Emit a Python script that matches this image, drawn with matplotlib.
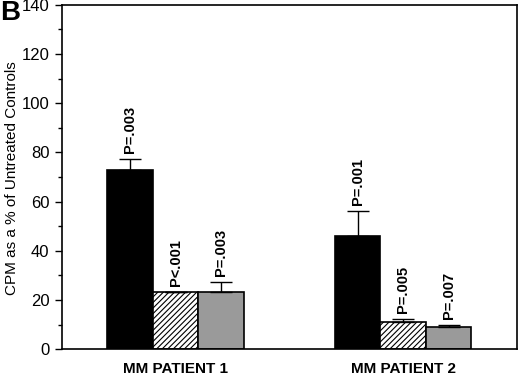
import matplotlib
matplotlib.use("Agg")
import matplotlib.pyplot as plt
import numpy as np

plt.rcParams['font.family'] = ['Liberation Sans', 'DejaVu Sans']
plt.rcParams['hatch.linewidth'] = 0.8

groups = ["MM PATIENT 1", "MM PATIENT 2"]
black_vals = [72.9, 46.0]
black_err = [4.4, 10.2]
hatch_vals = [23.2, 11.0]
hatch_err = [0.0, 1.2]
gray_vals = [23.2, 9.0]
gray_err = [4.1, 0.8]
black_p = ["P=.003", "P=.001"]
hatch_p = ["P<.001", "P=.005"]
gray_p = ["P=.003", "P=.007"]

fig = plt.figure(figsize=(5.2, 3.75), dpi=100)
ax = fig.add_axes([0.119, 0.069, 0.875, 0.918])

x = np.arange(len(groups))
w = 0.2
series = [
    (x - w, black_vals, black_err, black_p, dict(color='black', edgecolor='black')),
    (x, hatch_vals, hatch_err, hatch_p, dict(color='white', edgecolor='black', hatch='//////')),
    (x + w, gray_vals, gray_err, gray_p, dict(color='#9a9a9a', edgecolor='black')),
]
for xs, vals, errs, labels, style in series:
    ax.bar(xs, vals, width=w, linewidth=1.2, zorder=2, **style)
    ax.errorbar(xs, vals, yerr=[np.zeros(len(vals)), errs], fmt='none',
                ecolor='black', elinewidth=1.0, capsize=8, capthick=1.0, zorder=3)
    for xi, v, e, lab in zip(xs, vals, errs, labels):
        ax.text(xi, v + e + 2.5, lab, rotation=90, ha='center', va='bottom',
                fontsize=10.5, fontweight='semibold', zorder=4)

ax.set_xlim(-0.5, 1.5)
ax.set_ylim(0, 140)
ax.set_yticks(np.arange(0, 141, 20))
ax.set_yticks(np.arange(10, 140, 20), minor=True)
ax.tick_params(axis='y', which='major', length=5, width=1, labelsize=12, pad=4)
ax.tick_params(axis='y', which='minor', length=3, width=1)
ax.set_xticks(x)
ax.set_xticklabels(groups, fontweight='bold', fontsize=11)
ax.tick_params(axis='x', length=0, pad=9)
for s in ax.spines.values():
    s.set_linewidth(1.2)

fig.text(0.023, 0.524, "CPM as a % of Untreated Controls", rotation=90,
         ha='center', va='center', fontsize=11)
fig.text(0.0, 1.0, "B", fontsize=20, fontweight='bold', ha='left', va='top')

fig.savefig("out.png", dpi=100)
